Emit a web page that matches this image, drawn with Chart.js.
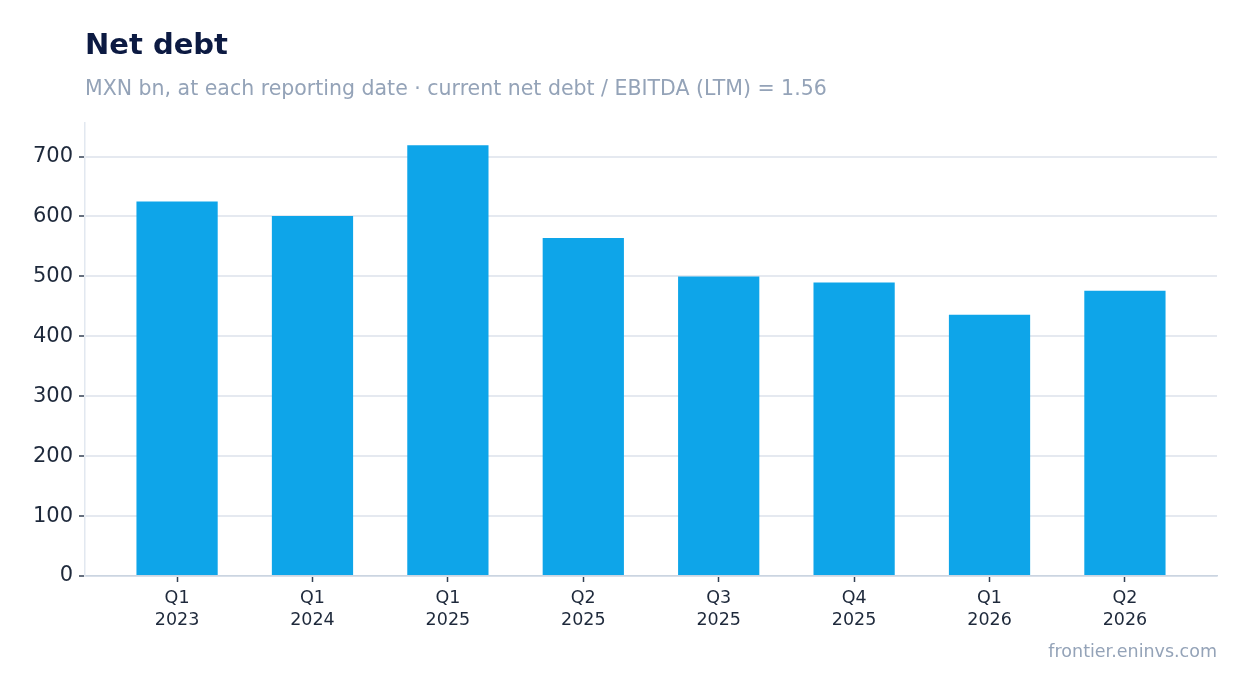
<!DOCTYPE html>
<html>
<head>
<meta charset="utf-8">
<script src="https://cdn.jsdelivr.net/npm/chart.js@4/dist/chart.umd.min.js"></script>
<style>
  html, body { margin: 0; padding: 0; background: #ffffff; }
  body { width: 1247px; height: 693px; position: relative; overflow: hidden; font-family: "DejaVu Sans", sans-serif; }
  .t { position: absolute; line-height: 1; white-space: nowrap; }
  #title { left: 85px; top: 30px; font-size: 29px; font-weight: bold; color: #0c1a42; }
  #subtitle { left: 85px; top: 78px; font-size: 20.5px; color: #94a3b8; }
  #footer { right: 30px; top: 643px; font-size: 17.5px; color: #94a3b8; }
  #c { position: absolute; left: 0; top: 0; }
</style>
</head>
<body>
<canvas id="c" width="1247" height="693"></canvas>
<div id="title" class="t">Net debt</div>
<div id="subtitle" class="t">MXN bn, at each reporting date · current net debt / EBITDA (LTM) = 1.56</div>
<div id="footer" class="t">frontier.eninvs.com</div>
<script>
const categories = [["Q1","2023"],["Q1","2024"],["Q1","2025"],["Q2","2025"],["Q3","2025"],["Q4","2025"],["Q1","2026"],["Q2","2026"]];
const netDebt = [625, 601, 719, 564, 500, 490, 436, 476];
const yTicks = [0, 100, 200, 300, 400, 500, 600, 700];
const yMax = 756;

const points = netDebt.map((v, i) => ({ x: i, y: v }));

new Chart(document.getElementById('c'), {
  type: 'bar',
  data: {
    datasets: [{
      label: 'Net debt',
      data: points,
      backgroundColor: '#0ea5e9',
      borderWidth: 0,
      categoryPercentage: 1.0,
      barPercentage: 0.6
    }]
  },
  options: {
    responsive: false,
    animation: false,
    devicePixelRatio: 1,
    layout: { padding: { left: 0, right: 30, top: 123, bottom: 0 } },
    plugins: { legend: { display: false }, title: { display: false }, tooltip: { enabled: false } },
    scales: {
      x: {
        type: 'linear',
        offset: false,
        min: -0.68,
        max: categories.length - 1 + 0.68,
        afterBuildTicks: (s) => { s.ticks = categories.map((c, i) => ({ value: i })); },
        grid: { offset: false, drawOnChartArea: false, drawTicks: true, tickLength: 6, tickColor: '#334155', tickWidth: 1.5 },
        border: { display: true, color: '#cbd5e1', width: 1.5 },
        ticks: { color: '#1e293b', font: { family: 'DejaVu Sans', size: 17.5, lineHeight: 1.22 }, padding: 6, maxRotation: 0, autoSkip: false,
                 callback: (v) => categories[v] },
        afterFit: (s) => { s.height = 117; }
      },
      y: {
        min: 0,
        max: yMax,
        afterBuildTicks: (s) => { s.ticks = yTicks.map(v => ({ value: v })); },
        grid: { color: '#e5e9f0', lineWidth: 2, drawTicks: true, tickLength: 6, tickColor: '#334155', tickWidth: 1.5 },
        border: { display: true, color: '#e2e8f0', width: 1.5 },
        ticks: { color: '#1e293b', font: { family: 'DejaVu Sans', size: 21 }, padding: 6 },
        afterFit: (s) => { s.width = 85; }
      }
    }
  }
});
</script>
</body>
</html>
